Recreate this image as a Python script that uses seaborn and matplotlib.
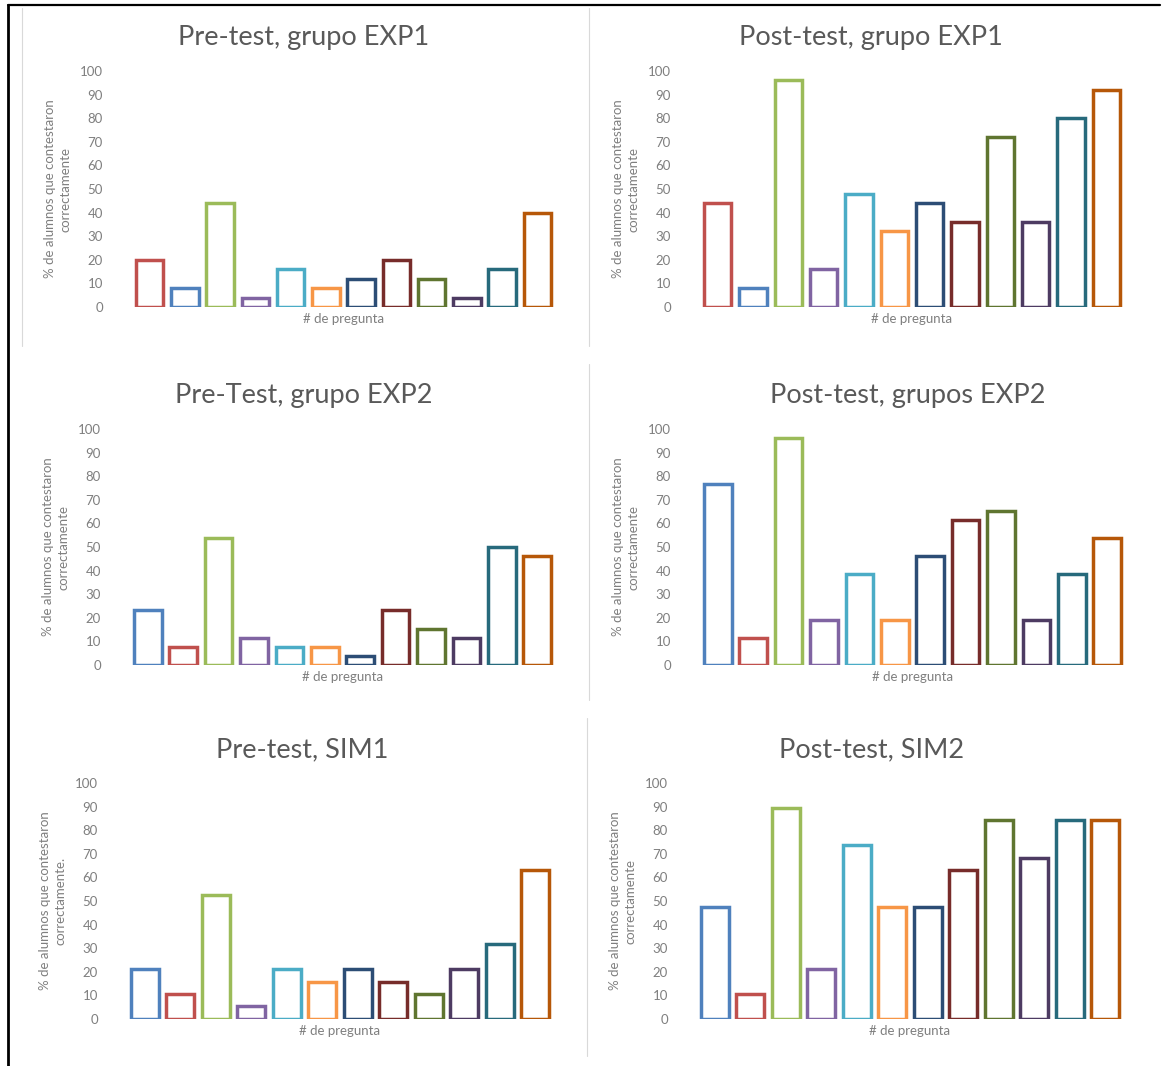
import matplotlib

matplotlib.use("Agg")
import matplotlib.pyplot as plt
import pandas as pd
import seaborn as sns
from matplotlib.lines import Line2D

# question numbers (hidden on the axis)
preguntas = [str(i) for i in range(1, 13)]

# % of students that answered each question correctly
pre_exp1 = [20, 8, 44, 4, 16, 8, 12, 20, 12, 4, 16, 40]
post_exp1 = [44, 8, 96, 16, 48, 32, 44, 36, 72, 36, 80, 92]
pre_exp2 = [23.1, 7.7, 53.8, 11.5, 7.7, 7.7, 3.8, 23.1, 15.4, 11.5, 50, 46.2]
post_exp2 = [76.9, 11.5, 96.2, 19.2, 38.5, 19.2, 46.2, 61.5, 65.4, 19.2, 38.5, 53.8]
pre_sim1 = [21.1, 10.5, 52.6, 5.3, 21.1, 15.8, 21.1, 15.8, 10.5, 21.1, 31.6, 63.2]
post_sim2 = [47.4, 10.5, 89.5, 21.1, 73.7, 47.4, 47.4, 63.2, 84.2, 68.4, 84.2, 84.2]

titles = [
    "Pre-test, grupo EXP1",
    "Post-test, grupo EXP1",
    "Pre-Test, grupo EXP2",
    "Post-test, grupos EXP2",
    "Pre-test, SIM1",
    "Post-test, SIM2",
]
ylabels = [
    "% de alumnos que contestaron\ncorrectamente",
    "% de alumnos que contestaron\ncorrectamente",
    "% de alumnos que contestaron\ncorrectamente",
    "% de alumnos que contestaron\ncorrectamente",
    "% de alumnos que contestaron\ncorrectamente.",
    "% de alumnos que contestaron\ncorrectamente",
]
xlabel = "# de pregunta"

# Office palette, red first (EXP1 charts) or blue first (the rest)
red_first = ["#C0504D", "#4F81BD", "#9BBB59", "#8064A2", "#4BACC6", "#F79646",
             "#2C4D75", "#772C2A", "#5F7530", "#4D3B62", "#276A7C", "#B65708"]
blue_first = ["#4F81BD", "#C0504D"] + red_first[2:]

# plot box in pixels (left, top, right, bottom) and title centre x
panels = [
    (pre_exp1, red_first, (132, 71, 555, 307), 304),
    (post_exp1, red_first, (700, 71, 1124, 307), 871),
    (pre_exp2, blue_first, (130, 429, 555, 665), 304),
    (post_exp2, blue_first, (700, 429, 1125, 665), 908),
    (pre_sim1, blue_first, (127, 783, 553, 1019), 302),
    (post_sim2, blue_first, (697, 783, 1123, 1019), 872),
]

W, H = 1166, 1066

sns.set_theme(style="white")
plt.rcParams["font.family"] = ["Lato", "DejaVu Sans"]

fig = plt.figure(figsize=(W / 100, H / 100), dpi=100)

for (values, colors, box, tx), title, ylabel in zip(panels, titles, ylabels):
    x0, y0, x1, y1 = box
    ax = fig.add_axes([x0 / W, 1 - y1 / H, (x1 - x0) / W, (y1 - y0) / H])
    df = pd.DataFrame({"pregunta": preguntas, "pct": values})
    sns.barplot(
        data=df, x="pregunta", y="pct", hue="pregunta", palette=colors,
        fill=False, linewidth=2.5, width=0.78, saturation=1, legend=False,
        ax=ax,
    )
    ax.set_ylim(0, 100)
    ax.set_yticks(range(0, 101, 10))
    ax.set_xticks([])
    ax.tick_params(axis="y", length=0, pad=21, labelsize=9.5, labelcolor="#7f7f7f")
    sns.despine(ax=ax, left=True, bottom=True)
    ax.set_title(title, fontsize=19.5, color="#595959", pad=18.5,
                 x=(tx - x0) / (x1 - x0))
    ax.set_xlabel(xlabel, fontsize=9.5, color="#7f7f7f", labelpad=4)
    ax.set_ylabel(ylabel, fontsize=9.5, color="#7f7f7f", va="center",
                  linespacing=1.35)
    ax.yaxis.set_label_coords(-74 / (x1 - x0), 0.5)

# page frame and chart borders
def fig_line(xs, ys, color, lw):
    fig.add_artist(Line2D([x / W for x in xs], [1 - y / H for y in ys],
                          color=color, linewidth=lw))

fig_line([8, 1160], [5, 5], "black", 1.6)
fig_line([8, 8], [5, 1066], "black", 2.0)
fig_line([22, 22], [8, 346], "#d9d9d9", 0.8)
fig_line([589, 589], [8, 346], "#d9d9d9", 0.8)
fig_line([589, 589], [364, 700], "#d9d9d9", 0.8)
fig_line([587, 587], [718, 1056], "#d9d9d9", 0.8)

fig.savefig("out.png", dpi=100)
